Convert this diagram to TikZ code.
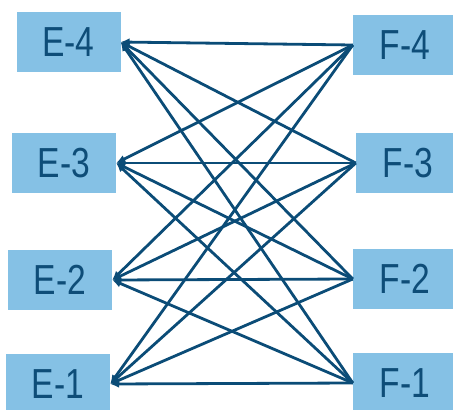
\documentclass[tikz,border=0pt]{standalone}
\usepackage{fontspec}
\setmainfont{Liberation Sans}[FakeStretch=0.8]
\usetikzlibrary{arrows.meta}
\definecolor{boxfill}{HTML}{85C1E5}
\definecolor{ink}{HTML}{0E4D78}
\definecolor{wire}{HTML}{0B4C77}
\tikzset{
  lbl/.style={fill=boxfill, text=ink, minimum width=104pt, minimum height=60pt, inner sep=0pt, font=\fontsize{42}{42}\selectfont},
  link/.style={draw=wire, line width=2.8pt, -{Latex[length=9pt,width=8pt]}}
}
\begin{document}
\begin{tikzpicture}[x=1pt,y=-1pt]
\useasboundingbox (0,0) rectangle (453,410);
\node[lbl] (E4) at (68.5,42) {E-4};
\node[lbl] (E3) at (64,163) {E-3};
\node[lbl] (E2) at (60,280) {E-2};
\node[lbl] (E1) at (58,384) {E-1};
\node[lbl] (F4) at (405,45) {F-4};
\node[lbl] (F3) at (408,163) {F-3};
\node[lbl] (F2) at (405,279) {F-2};
\node[lbl] (F1) at (405,383) {F-1};
\foreach \f in {1,2,3,4}{
  \foreach \e in {1,2,3,4}{
    \draw[link] (F\f.west) -- (E\e.east);
  }
}
\end{tikzpicture}
\end{document}
